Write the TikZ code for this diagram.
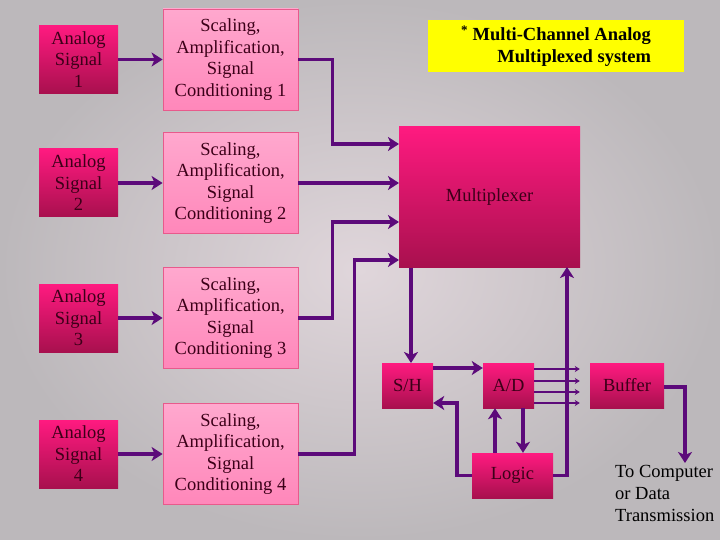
\documentclass[tikz,border=0pt]{standalone}
\usepackage{fontspec}
\setmainfont{Liberation Serif}
\usepackage{tikz}
\usetikzlibrary{arrows.meta,positioning}

\definecolor{bgedge}{RGB}{188,184,187}
\definecolor{bgmid}{RGB}{224,214,219}
\definecolor{darktop}{RGB}{255,26,128}
\definecolor{darkbot}{RGB}{168,16,78}
\definecolor{lighttop}{RGB}{255,168,206}
\definecolor{lightbot}{RGB}{255,135,186}
\definecolor{lightedge}{RGB}{232,90,140}
\definecolor{wire}{RGB}{92,10,122}
\definecolor{boxtext}{RGB}{60,0,24}
\definecolor{note}{RGB}{255,255,0}

\tikzset{
    darkbox/.style={top color=darktop, bottom color=darkbot, text=boxtext,
        align=center, inner sep=0pt, font=\fontsize{18.5}{21.5}\selectfont},
    lightbox/.style={top color=lighttop, bottom color=lightbot, draw=lightedge,
        line width=0.8pt, text=boxtext, align=center, inner sep=0pt,
        minimum width=135pt, minimum height=101pt,
        font=\fontsize{18.5}{21.5}\selectfont},
    wire/.style={draw=wire, line width=3.5pt,
        -{Stealth[length=11pt,width=14pt,inset=3pt]}},
    thinwire/.style={draw=wire, line width=1.8pt,
        -{Stealth[length=5pt,width=6pt]}},
}

\begin{document}
\begin{tikzpicture}[x=1pt,y=-1pt]
    % background
    \shade[inner color=bgmid, outer color=bgedge] (0,0) rectangle (720,540);
    \useasboundingbox (0,0) rectangle (720,540);

    % input channels
    \foreach \i/\y in {1/59.5,2/183,3/318,4/454} {
        \node[darkbox, minimum width=79pt, minimum height=68pt] (sig\i) at (78.5,\y)
            {Analog\\Signal\\\i};
        \node[lightbox] (cond\i) at (230.5,\y)
            {Scaling,\\Amplification,\\Signal\\Conditioning \i};
        \draw[wire] (sig\i.east) -- (cond\i.west);
    }

    % multiplexer and note
    \node[darkbox, minimum width=181pt, minimum height=141pt] (mux) at (489.5,197) {Multiplexer};
    \node[fill=note, minimum width=256pt, minimum height=52pt, align=right,
        font=\bfseries\fontsize{18.5}{21.5}\selectfont, text=black] (note) at (556,46)
        {\textsuperscript{*} Multi-Channel Analog\\Multiplexed system};

    \coordinate (min1) at (399,144);
    \coordinate (min2) at (399,183);
    \coordinate (min3) at (399,222);
    \coordinate (min4) at (399,260);
    \draw[wire] (cond1.east) -- ++(34,0) |- (min1);
    \draw[wire] (cond2.east) -- (min2);
    \draw[wire] (cond3.east) -- ++(34,0) |- (min3);
    \draw[wire] (cond4.east) -- ++(56,0) |- (min4);

    % conversion stage
    \node[darkbox, minimum width=51pt, minimum height=45pt] (sh) at (407.5,385.5) {S/H};
    \node[darkbox, minimum width=51pt, minimum height=45pt] (ad) at (508.5,385.5) {A/D};
    \node[darkbox, minimum width=74pt, minimum height=45pt] (buf) at (627,385.5) {Buffer};
    \node[darkbox, minimum width=81pt, minimum height=45pt] (logic) at (512.5,475.5) {Logic};

    \draw[wire] (mux.south -| 411,0) -- (411,363);
    \draw[wire] ([yshift=17.5pt]sh.east) -- ([yshift=17.5pt]ad.west);
    \draw[wire] (logic.west) -| (457,403) -- ([yshift=-17.5pt]sh.east);
    \draw[wire] (logic.north -| 495,0) -- (ad.south -| 495,0);
    \draw[wire] (ad.south -| 523,0) -- (logic.north -| 523,0);
    \draw[wire] (logic.east) -| (567,267);
    \foreach \s in {16.5,4.5,-6.5,-17.5}
        \draw[thinwire] ([yshift=\s pt]ad.east) -- ([yshift=\s pt, xshift=-10pt]ad.east -| buf.west);

    % output
    \coordinate (out) at (685,463);
    \draw[wire] ([yshift=-1.5pt]buf.east) -| (out);
    \node[anchor=north west, align=left, inner sep=0pt,
        font=\fontsize{18.5}{22}\selectfont] (dest) at (615,465)
        {To Computer\\or Data\\Transmission};
\end{tikzpicture}
\end{document}
